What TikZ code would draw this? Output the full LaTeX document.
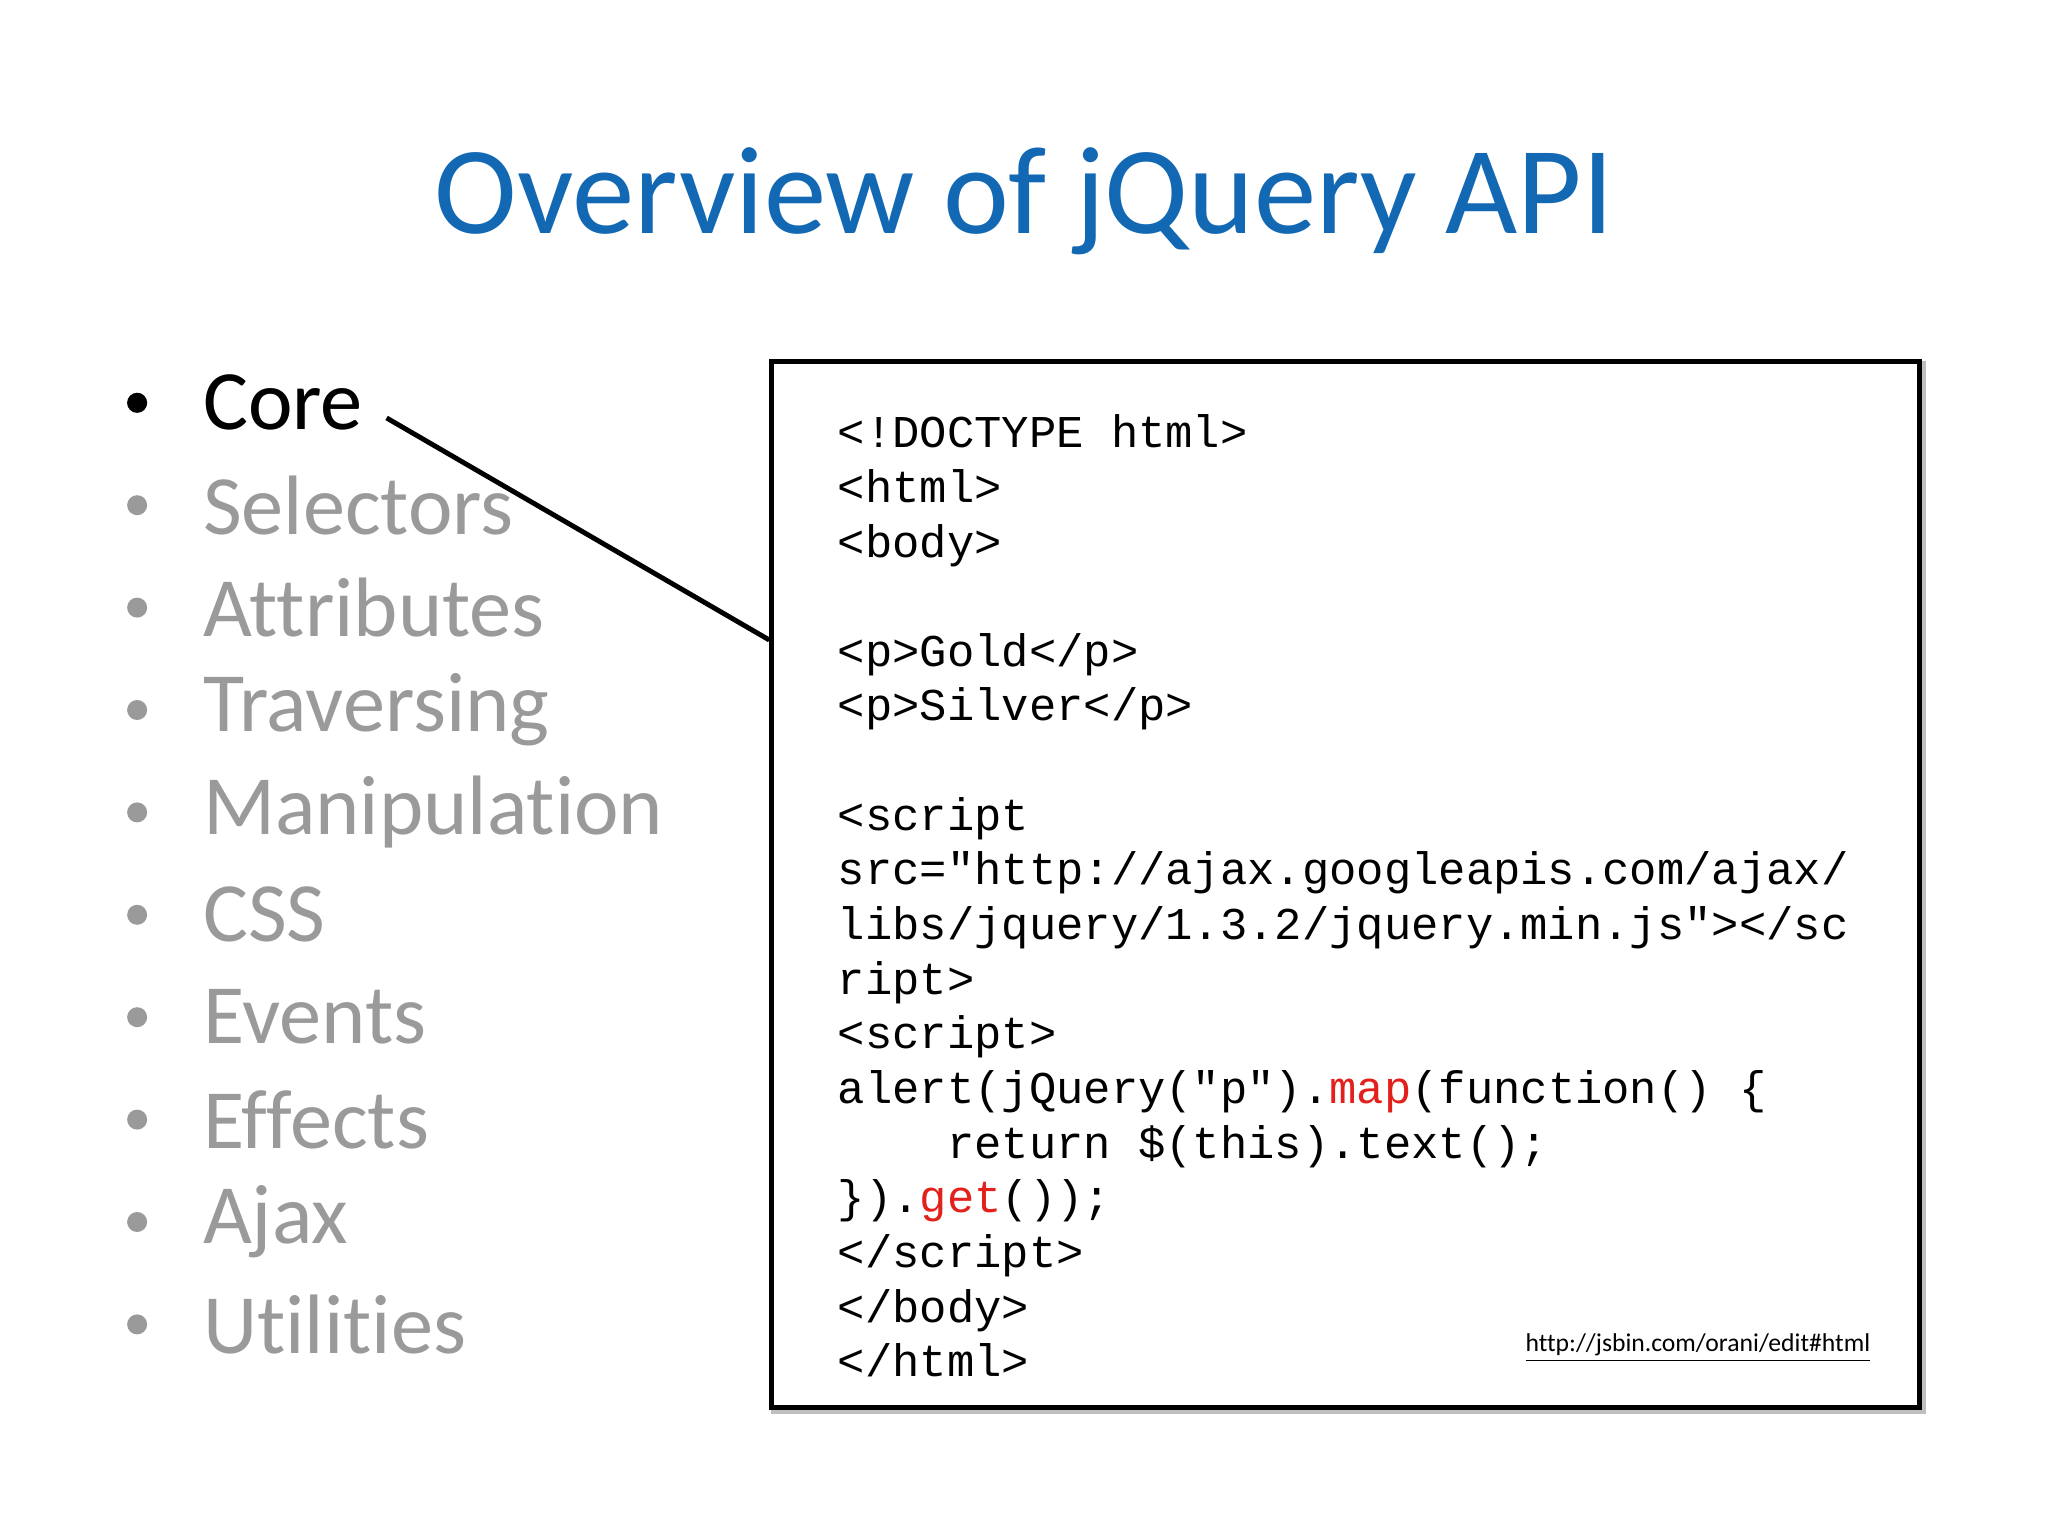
\documentclass[tikz,border=0pt]{standalone}
\usepackage{fontspec}
\setmainfont{Carlito}[Ligatures=NoCommon]
\setmonofont{Liberation Mono}
\usetikzlibrary{positioning}
\definecolor{titleblue}{HTML}{1268B3}
\definecolor{itemgray}{HTML}{9A9A9A}
\definecolor{codered}{HTML}{E3211C}

\begin{document}
\begin{tikzpicture}%
        [x=0.013061cm, y=-0.013061cm,
        title/.style={font=\fontsize{35.5}{42}\selectfont, text=titleblue},
        item/.style={anchor=west, inner sep=0pt, font=\fontsize{24}{29}\selectfont, text=itemgray},
        dot/.style={circle, fill=itemgray, inner sep=0pt, minimum size=0.2cm},
        code/.style={anchor=north west, inner sep=0pt, align=left,
            font=\ttfamily\fontsize{12.95}{15.55}\selectfont}]
    %
    %% Page and margins
    \useasboundingbox (0,0) rectangle (1568,1176);
    \fill[white] (0,0) rectangle (1568,1176);
    %
    %% Title
    \node[title] (head) at (784,154) {Overview of jQuery API};
    %
    %% Bullet list
    \foreach \lbl [count=\i] in {Core,Selectors,Attributes,Traversing,Manipulation,CSS,Events,Effects,Ajax,Utilities}
    {
        \node[dot] (dot\i) at (105,230+78.4*\i) {};
        \node[item] (item\i) at (155,230+78.4*\i) {\lbl};
    }
    \node[dot, fill=black] at (dot1) {};
    \node[item, text=black] at (item1.west) {Core};
    %
    %% Code box
    \draw[black!25, line width=2pt] (593,279) rectangle (1472,1080);
    \node[draw=black, line width=1.3pt, fill=white, anchor=north west,
          minimum width=0.013061cm*879, minimum height=0.013061cm*801,
          inner sep=0pt] (box) at (589,275) {};
    \node[code] (src) at (641,317) {%
<!DOCTYPE html>\\
<html>\\
<body>\\
\mbox{}\\
<p>Gold</p>\\
<p>Silver</p>\\
\mbox{}\\
<script\\
src="http://ajax.googleapis.com/ajax/\\
libs/jquery/1.3.2/jquery.min.js"></sc\\
ript>\\
<script>\\
alert(jQuery("p").\textcolor{codered}{map}(function()\phantom{x}\{\\
\phantom{xxxx}return \$(this).text();\\
\}).\textcolor{codered}{get}());\\
</script>\\
</body>\\
</html>};
    \node[font=\fontsize{7.3}{9}\selectfont, inner sep=0pt] (url) at (1300,1032)
        {\underline{http://jsbin.com/orani/edit\#html}};
    %
    %% Connector from Core to the box
    \coordinate (tip) at (296,320);
    \draw[black, line width=1.4pt] (tip) -- (box.west |- 0,490);
    %%
\end{tikzpicture}
\end{document}
